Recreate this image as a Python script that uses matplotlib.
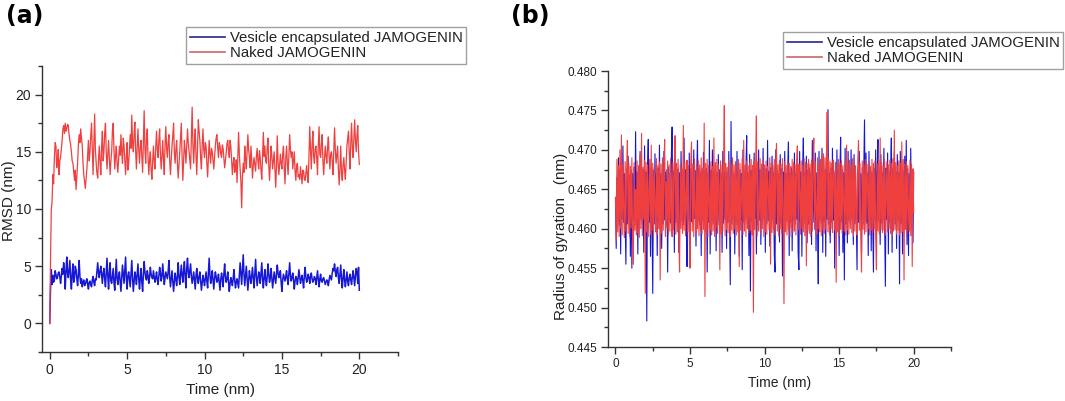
import numpy as np
import matplotlib
matplotlib.use("Agg")
import matplotlib.pyplot as plt
from matplotlib.lines import Line2D
from matplotlib.ticker import MultipleLocator, FormatStrFormatter

plt.rcParams['font.family'] = ['Liberation Sans', 'DejaVu Sans']

# ---------------- data ----------------
labels = ["Vesicle encapsulated JAMOGENIN", "Naked JAMOGENIN"]

rmsd_naked = [
    0.0, 5.5, 10.0, 10.6, 13.0, 12.2, 14.5, 15.8, 15.5, 13.6,
    14.0, 15.2, 13.0, 14.2, 14.5, 15.2, 16.0, 17.0, 17.3, 16.6,
    17.5, 16.8, 17.0, 17.4, 17.3, 16.5, 16.0, 15.6, 15.0, 14.2,
    14.0, 13.2, 12.5, 13.4, 11.7, 12.8, 14.0, 15.6, 16.5, 15.8,
    17.0, 16.2, 15.5, 14.0, 13.0, 12.4, 11.8, 12.6, 13.5, 14.8,
    16.0, 14.2, 15.0, 16.4, 17.5, 15.3, 13.0, 15.6, 18.3, 15.2,
    14.0, 13.1, 12.7, 14.3, 15.5, 14.1, 13.0, 15.4, 16.8, 14.2,
    15.0, 16.6, 17.5, 15.0, 13.5, 14.8, 16.0, 14.4, 13.0, 14.2,
    15.0, 16.8, 17.5, 15.2, 13.5, 14.6, 15.5, 14.0, 13.2, 14.4,
    15.5, 14.7, 16.5, 15.0, 14.0, 16.2, 15.5, 14.3, 13.0, 14.6,
    15.8, 13.4, 14.0, 15.2, 16.5, 15.3, 18.2, 15.8, 15.0, 16.6,
    17.6, 15.1, 13.5, 15.4, 17.0, 15.2, 14.0, 15.4, 16.0, 14.6,
    13.2, 15.8, 18.6, 15.3, 14.0, 16.2, 17.0, 14.5, 13.0, 14.3,
    15.0, 13.4, 12.6, 14.2, 15.5, 14.1, 13.5, 15.4, 16.8, 15.2,
    14.5, 16.0, 17.0, 14.8, 13.5, 14.6, 16.0, 14.3, 13.0, 15.6,
    17.2, 15.3, 14.5, 15.8, 16.5, 14.2, 13.0, 14.4, 15.5, 16.4,
    17.5, 15.0, 14.0, 15.2, 16.0, 14.0, 12.7, 13.8, 15.0, 16.3,
    17.5, 14.6, 12.5, 14.2, 16.0, 15.1, 14.0, 15.6, 17.0, 15.8,
    15.0, 14.1, 13.5, 16.2, 18.9, 15.6, 14.0, 15.8, 17.0, 14.6,
    13.0, 15.4, 17.8, 16.8, 16.0, 14.4, 13.5, 15.6, 17.0, 15.2,
    14.5, 15.8, 15.5, 14.0, 12.8, 14.3, 16.0, 14.8, 14.0, 15.3,
    15.0, 14.2, 13.5, 14.6, 15.5, 16.2, 16.5, 15.4, 14.5, 15.8,
    15.5, 14.8, 14.5, 15.6, 15.3, 14.4, 13.6, 14.2, 15.0, 15.7,
    16.0, 15.1, 14.5, 16.0, 15.5, 14.2, 13.0, 14.0, 14.5, 13.2,
    13.5, 14.3, 12.3, 14.6, 16.7, 14.8, 13.5, 12.4, 10.1, 12.8,
    14.0, 13.2, 15.5, 14.4, 13.5, 15.0, 16.5, 15.2, 14.5, 13.6,
    15.5, 14.2, 12.7, 13.8, 14.5, 13.9, 13.3, 14.6, 15.3, 14.2,
    13.5, 15.1, 14.5, 13.4, 12.6, 14.8, 16.7, 14.6, 15.5, 14.2,
    14.0, 15.4, 16.2, 13.8, 12.5, 14.1, 15.5, 14.6, 13.5, 14.2,
    15.0, 13.4, 11.9, 13.8, 16.4, 14.1, 13.0, 13.8, 14.8, 14.0,
    13.5, 14.8, 15.5, 13.6, 12.2, 14.4, 15.5, 14.0, 13.0, 14.6,
    16.5, 15.2, 14.5, 15.0, 13.5, 14.2, 15.0, 13.3, 12.5, 13.8,
    14.0, 12.8, 13.0, 12.6, 13.7, 13.0, 12.2, 13.4, 13.3, 12.6,
    12.5, 13.2, 13.8, 12.8, 12.3, 14.6, 17.2, 15.1, 13.5, 15.6,
    16.8, 14.6, 14.0, 15.3, 15.5, 14.4, 13.0, 15.6, 17.2, 14.8,
    14.5, 15.7, 16.5, 14.2, 13.0, 14.4, 15.5, 14.6, 14.0, 15.4,
    16.3, 14.6, 13.5, 14.8, 15.0, 14.2, 13.0, 15.0, 17.1, 15.2,
    14.0, 14.8, 15.5, 13.4, 12.1, 13.6, 15.5, 13.2, 12.5, 13.8,
    14.5, 13.4, 12.6, 14.1, 15.5, 16.2, 16.8, 14.9, 13.5, 15.8,
    17.5, 15.4, 14.5, 16.2, 17.8, 16.0, 15.0, 16.4, 17.3, 15.0,
    13.9,
]

rmsd_vesicle = [
    0.0, 3.0, 4.7, 3.4, 4.2, 3.6, 3.8, 4.6, 4.3, 3.9,
    4.0, 4.4, 4.5, 4.1, 3.5, 4.2, 4.8, 4.3, 5.3, 4.5,
    3.0, 4.6, 5.8, 4.4, 4.0, 4.8, 5.5, 3.8, 3.0, 4.4,
    5.2, 3.6, 4.0, 5.0, 4.7, 3.9, 3.3, 4.3, 5.5, 4.1,
    3.5, 3.9, 3.2, 3.6, 3.8, 3.3, 3.4, 3.7, 3.9, 3.4,
    3.0, 3.6, 3.7, 3.4, 3.2, 3.8, 4.1, 3.6, 3.3, 3.9,
    3.8, 4.6, 5.3, 4.4, 4.0, 4.6, 5.0, 4.2, 3.5, 4.4,
    4.8, 3.9, 3.2, 4.5, 5.7, 4.2, 3.0, 4.4, 5.3, 3.7,
    3.5, 4.2, 4.8, 3.6, 2.9, 4.3, 5.6, 3.9, 3.4, 4.1,
    4.5, 3.6, 2.8, 4.0, 5.1, 4.3, 3.5, 4.6, 5.8, 3.9,
    3.0, 4.2, 4.5, 3.8, 3.2, 4.4, 5.5, 4.0, 2.8, 3.7,
    4.5, 4.1, 3.4, 4.3, 5.2, 3.9, 3.0, 4.0, 4.8, 3.6,
    2.8, 4.3, 5.4, 4.5, 4.0, 3.8, 4.6, 4.2, 3.5, 4.0,
    4.9, 4.3, 4.0, 3.9, 4.6, 4.1, 3.6, 4.0, 4.5, 3.8,
    3.4, 4.2, 4.9, 4.4, 3.7, 4.1, 5.2, 4.3, 3.4, 4.0,
    4.5, 4.2, 3.9, 4.5, 5.5, 4.1, 3.2, 3.9, 4.6, 3.7,
    2.8, 3.6, 4.4, 3.9, 3.3, 4.2, 5.3, 4.0, 3.4, 4.3,
    5.1, 4.2, 3.6, 4.6, 5.4, 4.0, 3.1, 4.8, 5.7, 4.5,
    4.0, 4.6, 5.2, 4.1, 3.5, 4.0, 4.5, 3.8, 3.0, 4.2,
    4.8, 3.9, 3.5, 4.1, 4.5, 3.7, 2.9, 3.6, 4.2, 3.8,
    3.3, 3.9, 4.5, 3.7, 3.1, 4.4, 5.7, 4.2, 3.5, 4.0,
    4.6, 3.8, 3.0, 3.9, 4.5, 4.1, 3.6, 3.8, 4.3, 3.6,
    2.9, 3.8, 4.4, 3.9, 3.2, 4.3, 5.2, 4.1, 3.6, 3.9,
    4.5, 3.7, 2.8, 3.5, 4.0, 3.7, 3.3, 3.9, 4.7, 3.8,
    3.1, 3.6, 3.9, 3.5, 3.1, 4.2, 5.3, 4.4, 3.4, 4.8,
    6.0, 4.3, 3.3, 4.2, 5.0, 3.9, 2.9, 3.8, 4.6, 4.0,
    3.5, 4.2, 4.9, 3.9, 3.1, 4.3, 5.6, 4.1, 3.3, 3.9,
    4.5, 4.2, 3.5, 4.4, 5.3, 3.9, 3.1, 4.0, 4.7, 3.8,
    3.3, 4.1, 5.2, 4.3, 3.6, 4.0, 4.8, 3.9, 3.1, 3.8,
    4.5, 4.0, 3.5, 4.3, 5.1, 4.4, 4.0, 4.2, 4.6, 3.6,
    2.8, 3.8, 4.3, 4.0, 3.7, 4.1, 4.6, 3.9, 3.4, 4.4,
    5.3, 4.2, 3.7, 4.0, 4.4, 3.8, 3.0, 3.7, 4.1, 3.9,
    3.4, 4.0, 4.7, 4.1, 3.5, 3.9, 4.2, 3.7, 3.1, 4.2,
    4.9, 4.0, 3.6, 3.9, 4.3, 4.0, 3.5, 4.1, 4.4, 3.9,
    3.6, 3.8, 4.1, 3.9, 3.4, 4.0, 4.6, 3.8, 3.2, 3.9,
    4.3, 3.7, 3.6, 3.9, 4.0, 3.7, 3.4, 3.6, 3.8, 3.7,
    3.3, 3.8, 4.2, 4.0, 3.8, 4.4, 4.8, 4.6, 5.2, 4.5,
    4.1, 4.7, 4.9, 4.0, 3.5, 4.3, 5.1, 3.9, 3.1, 4.0,
    4.7, 3.8, 3.2, 3.9, 4.5, 3.7, 3.3, 4.0, 4.3, 3.8,
    3.4, 4.1, 4.6, 3.9, 3.3, 4.2, 4.8, 4.4, 3.5, 4.9,
    2.9,
]

rg_naked = [
    0.4640, 0.4585, 0.4688, 0.4596, 0.4680, 0.4590, 0.4700, 0.4600, 0.4719, 0.4592,
    0.4682, 0.4625, 0.4589, 0.4685, 0.4597, 0.4676, 0.4712, 0.4594, 0.4683, 0.4590,
    0.4679, 0.4601, 0.4690, 0.4588, 0.4555, 0.4684, 0.4598, 0.4650, 0.4592, 0.4686,
    0.4595, 0.4680, 0.4589, 0.4693, 0.4600, 0.4721, 0.4591, 0.4678, 0.4612, 0.4687,
    0.4518, 0.4684, 0.4596, 0.4681, 0.4590, 0.4640, 0.4688, 0.4593, 0.4706, 0.4598,
    0.4683, 0.4589, 0.4677, 0.4630, 0.4596, 0.4689, 0.4592, 0.4680, 0.4600, 0.4685,
    0.4535, 0.4682, 0.4594, 0.4690, 0.4598, 0.4678, 0.4713, 0.4590, 0.4660, 0.4601,
    0.4686, 0.4592, 0.4681, 0.4597, 0.4689, 0.4615, 0.4590, 0.4684, 0.4599, 0.4679,
    0.4718, 0.4593, 0.4683, 0.4596, 0.4688, 0.4590, 0.4545, 0.4681, 0.4600, 0.4676,
    0.4594, 0.4731, 0.4598, 0.4685, 0.4591, 0.4645, 0.4687, 0.4596, 0.4680, 0.4592,
    0.4550, 0.4684, 0.4710, 0.4597, 0.4682, 0.4590, 0.4688, 0.4620, 0.4595, 0.4679,
    0.4600, 0.4686, 0.4591, 0.4681, 0.4598, 0.4690, 0.4593, 0.4677, 0.4599, 0.4734,
    0.4514, 0.4683, 0.4596, 0.4688, 0.4590, 0.4680, 0.4635, 0.4598, 0.4685, 0.4592,
    0.4679, 0.4597, 0.4715, 0.4590, 0.4684, 0.4601, 0.4688, 0.4594, 0.4681, 0.4655,
    0.4548, 0.4686, 0.4593, 0.4680, 0.4597, 0.4689, 0.4756, 0.4591, 0.4683, 0.4599,
    0.4678, 0.4595, 0.4687, 0.4610, 0.4590, 0.4682, 0.4598, 0.4690, 0.4594, 0.4681,
    0.4600, 0.4685, 0.4592, 0.4679, 0.4596, 0.4688, 0.4552, 0.4683, 0.4598, 0.4640,
    0.4689, 0.4593, 0.4712, 0.4597, 0.4681, 0.4590, 0.4686, 0.4600, 0.4680, 0.4595,
    0.4684, 0.4598, 0.4688, 0.4592, 0.4680, 0.4494, 0.4686, 0.4599, 0.4678, 0.4743,
    0.4591, 0.4685, 0.4597, 0.4625, 0.4689, 0.4594, 0.4682, 0.4600, 0.4687, 0.4590,
    0.4681, 0.4596, 0.4686, 0.4593, 0.4679, 0.4650, 0.4598, 0.4690, 0.4555, 0.4683,
    0.4595, 0.4680, 0.4599, 0.4688, 0.4592, 0.4684, 0.4708, 0.4597, 0.4681, 0.4591,
    0.4687, 0.4600, 0.4682, 0.4594, 0.4689, 0.4630, 0.4505, 0.4685, 0.4596, 0.4680,
    0.4592, 0.4686, 0.4598, 0.4683, 0.4590, 0.4679, 0.4601, 0.4688, 0.4595, 0.4684,
    0.4597, 0.4681, 0.4592, 0.4687, 0.4705, 0.4599, 0.4682, 0.4645, 0.4593, 0.4686,
    0.4600, 0.4680, 0.4596, 0.4689, 0.4591, 0.4684, 0.4553, 0.4683, 0.4598, 0.4688,
    0.4594, 0.4682, 0.4590, 0.4687, 0.4597, 0.4681, 0.4715, 0.4599, 0.4685, 0.4618,
    0.4593, 0.4690, 0.4600, 0.4684, 0.4596, 0.4688, 0.4591, 0.4692, 0.4598, 0.4695,
    0.4594, 0.4690, 0.4599, 0.4686, 0.4748, 0.4596, 0.4689, 0.4592, 0.4685, 0.4600,
    0.4683, 0.4595, 0.4687, 0.4660, 0.4598, 0.4684, 0.4532, 0.4681, 0.4596, 0.4688,
    0.4591, 0.4683, 0.4599, 0.4686, 0.4594, 0.4680, 0.4635, 0.4597, 0.4688, 0.4592,
    0.4706, 0.4598, 0.4683, 0.4593, 0.4687, 0.4600, 0.4681, 0.4595, 0.4689, 0.4591,
    0.4684, 0.4597, 0.4680, 0.4620, 0.4592, 0.4687, 0.4712, 0.4598, 0.4683, 0.4594,
    0.4545, 0.4686, 0.4599, 0.4681, 0.4593, 0.4688, 0.4596, 0.4682, 0.4655, 0.4600,
    0.4685, 0.4592, 0.4679, 0.4598, 0.4688, 0.4594, 0.4683, 0.4600, 0.4686, 0.4591,
    0.4548, 0.4682, 0.4597, 0.4687, 0.4593, 0.4715, 0.4599, 0.4684, 0.4595, 0.4680,
    0.4598, 0.4688, 0.4592, 0.4640, 0.4685, 0.4596, 0.4681, 0.4600, 0.4687, 0.4594,
    0.4683, 0.4591, 0.4689, 0.4597, 0.4725, 0.4599, 0.4684, 0.4593, 0.4680, 0.4598,
    0.4686, 0.4592, 0.4683, 0.4595, 0.4710, 0.4596, 0.4688, 0.4535, 0.4682, 0.4599,
    0.4685, 0.4593, 0.4680, 0.4625, 0.4597, 0.4687, 0.4591, 0.4682, 0.4552, 0.4676,
    0.4620,
]

rg_vesicle = [
    0.4638, 0.4575, 0.4665, 0.4610, 0.4690, 0.4605, 0.4675, 0.4568, 0.4672, 0.4612,
    0.4705, 0.4608, 0.4670, 0.4615, 0.4555, 0.4676, 0.4606, 0.4692, 0.4612, 0.4668,
    0.4565, 0.4674, 0.4550, 0.4670, 0.4610, 0.4678, 0.4605, 0.4723, 0.4614, 0.4672,
    0.4568, 0.4676, 0.4608, 0.4698, 0.4612, 0.4670, 0.4606, 0.4675, 0.4570, 0.4705,
    0.4610, 0.4672, 0.4483, 0.4676, 0.4713, 0.4608, 0.4670, 0.4565, 0.4678, 0.4612,
    0.4518, 0.4674, 0.4606, 0.4695, 0.4610, 0.4671, 0.4566, 0.4677, 0.4608, 0.4706,
    0.4612, 0.4670, 0.4575, 0.4676, 0.4606, 0.4698, 0.4611, 0.4672, 0.4605, 0.4675,
    0.4545, 0.4678, 0.4610, 0.4670, 0.4607, 0.4694, 0.4729, 0.4612, 0.4673, 0.4570,
    0.4702, 0.4608, 0.4674, 0.4613, 0.4676, 0.4570, 0.4671, 0.4606, 0.4698, 0.4610,
    0.4672, 0.4605, 0.4715, 0.4612, 0.4675, 0.4608, 0.4552, 0.4670, 0.4611, 0.4696,
    0.4568, 0.4676, 0.4609, 0.4672, 0.4606, 0.4700, 0.4613, 0.4674, 0.4578, 0.4670,
    0.4712, 0.4610, 0.4677, 0.4605, 0.4671, 0.4566, 0.4675, 0.4611, 0.4697, 0.4607,
    0.4673, 0.4612, 0.4676, 0.4545, 0.4670, 0.4608, 0.4712, 0.4568, 0.4674, 0.4610,
    0.4700, 0.4606, 0.4672, 0.4613, 0.4677, 0.4572, 0.4671, 0.4609, 0.4694, 0.4605,
    0.4675, 0.4611, 0.4670, 0.4570, 0.4698, 0.4607, 0.4673, 0.4612, 0.4676, 0.4575,
    0.4671, 0.4608, 0.4698, 0.4610, 0.4529, 0.4736, 0.4606, 0.4674, 0.4612, 0.4670,
    0.4568, 0.4676, 0.4609, 0.4698, 0.4605, 0.4672, 0.4565, 0.4675, 0.4611, 0.4670,
    0.4548, 0.4700, 0.4608, 0.4673, 0.4612, 0.4677, 0.4718, 0.4606, 0.4671, 0.4566,
    0.4694, 0.4521, 0.4674, 0.4610, 0.4670, 0.4607, 0.4696, 0.4613, 0.4676, 0.4568,
    0.4672, 0.4605, 0.4700, 0.4611, 0.4675, 0.4580, 0.4671, 0.4608, 0.4702, 0.4612,
    0.4670, 0.4570, 0.4676, 0.4606, 0.4712, 0.4610, 0.4673, 0.4578, 0.4677, 0.4608,
    0.4692, 0.4612, 0.4671, 0.4568, 0.4545, 0.4700, 0.4606, 0.4674, 0.4611, 0.4670,
    0.4583, 0.4694, 0.4607, 0.4676, 0.4540, 0.4672, 0.4612, 0.4698, 0.4605, 0.4670,
    0.4610, 0.4675, 0.4710, 0.4566, 0.4671, 0.4608, 0.4677, 0.4572, 0.4673, 0.4611,
    0.4696, 0.4606, 0.4670, 0.4612, 0.4676, 0.4570, 0.4548, 0.4698, 0.4609, 0.4672,
    0.4565, 0.4675, 0.4715, 0.4607, 0.4671, 0.4611, 0.4692, 0.4582, 0.4674, 0.4606,
    0.4677, 0.4612, 0.4670, 0.4580, 0.4712, 0.4608, 0.4673, 0.4610, 0.4696, 0.4572,
    0.4671, 0.4606, 0.4530, 0.4698, 0.4611, 0.4676, 0.4607, 0.4702, 0.4570, 0.4672,
    0.4610, 0.4675, 0.4565, 0.4698, 0.4612, 0.4751, 0.4606, 0.4671, 0.4582, 0.4677,
    0.4608, 0.4702, 0.4611, 0.4673, 0.4550, 0.4670, 0.4607, 0.4700, 0.4612, 0.4676,
    0.4566, 0.4672, 0.4716, 0.4609, 0.4675, 0.4570, 0.4671, 0.4535, 0.4702, 0.4606,
    0.4673, 0.4582, 0.4698, 0.4610, 0.4670, 0.4607, 0.4700, 0.4612, 0.4676, 0.4580,
    0.4694, 0.4606, 0.4671, 0.4611, 0.4548, 0.4675, 0.4608, 0.4698, 0.4612, 0.4670,
    0.4568, 0.4677, 0.4606, 0.4673, 0.4738, 0.4610, 0.4696, 0.4607, 0.4671, 0.4566,
    0.4698, 0.4611, 0.4675, 0.4572, 0.4672, 0.4608, 0.4545, 0.4676, 0.4612, 0.4700,
    0.4606, 0.4670, 0.4713, 0.4610, 0.4674, 0.4580, 0.4694, 0.4607, 0.4671, 0.4611,
    0.4702, 0.4605, 0.4527, 0.4677, 0.4612, 0.4696, 0.4568, 0.4673, 0.4608, 0.4670,
    0.4715, 0.4570, 0.4676, 0.4610, 0.4698, 0.4606, 0.4672, 0.4575, 0.4694, 0.4611,
    0.4671, 0.4530, 0.4698, 0.4607, 0.4675, 0.4568, 0.4673, 0.4612, 0.4692, 0.4606,
    0.4712, 0.4580, 0.4676, 0.4566, 0.4670, 0.4610, 0.4702, 0.4608, 0.4674, 0.4582,
    0.4672,
]

t_start, t_end = 0.0, 20.0

# ---------------- style ----------------
BLUE = '#1717d6'
RED = '#ef3f3f'
BLUE_LEG = '#25258f'
RED_LEG = '#cc6666'
TXT = '#222222'
SPINE = '#333333'

fig = plt.figure(figsize=(10.65, 4.01), dpi=100)

def style_axes(ax, fs):
    for s in ['top', 'right']:
        ax.spines[s].set_visible(False)
    for s in ['left', 'bottom']:
        ax.spines[s].set_color(SPINE)
        ax.spines[s].set_linewidth(1.0)
    ax.tick_params(which='major', direction='out', length=5, width=1,
                   color=SPINE, labelsize=fs, labelcolor=TXT, pad=3)
    ax.tick_params(which='minor', direction='out', length=3, width=1, color=SPINE)
    ax.xaxis.set_major_locator(MultipleLocator(5))
    ax.xaxis.set_minor_locator(MultipleLocator(2.5))

# ---- panel (a) ----
axa = fig.add_axes([42/1065, 1-352/401, 356/1065, 286/401])
ta_n = np.linspace(t_start, t_end, len(rmsd_naked))
ta_v = np.linspace(t_start, t_end, len(rmsd_vesicle))
axa.plot(ta_v, rmsd_vesicle, color=BLUE, lw=1.1)
axa.plot(ta_n, rmsd_naked, color=RED, lw=0.9)
axa.set_xlim(-0.5, 22.5)
axa.set_ylim(-2.5, 22.5)
style_axes(axa, 10)
axa.yaxis.set_major_locator(MultipleLocator(5))
axa.yaxis.set_minor_locator(MultipleLocator(2.5))
axa.set_xlabel('Time (nm)', fontsize=11, color=TXT, labelpad=4)
axa.set_ylabel('RMSD (nm)', fontsize=11, color=TXT)
axa.yaxis.set_label_coords(-0.074, 0.53)

# ---- panel (b) ----
axb = fig.add_axes([608/1065, 1-347/401, 343/1065, 276/401])
tb_n = np.linspace(t_start, t_end, len(rg_naked))
tb_v = np.linspace(t_start, t_end, len(rg_vesicle))
axb.plot(tb_v, rg_vesicle, color=BLUE, lw=0.8)
axb.plot(tb_n, rg_naked, color=RED, lw=0.8)
axb.set_xlim(-0.5, 22.5)
axb.set_ylim(0.445, 0.480)
style_axes(axb, 8.5)
axb.yaxis.set_major_locator(MultipleLocator(0.005))
axb.yaxis.set_minor_locator(MultipleLocator(0.0025))
axb.yaxis.set_major_formatter(FormatStrFormatter('%.3f'))
axb.set_xlabel('Time (nm)', fontsize=10, color=TXT, labelpad=4)
axb.set_ylabel('Radius of gyration   (nm)', fontsize=11, color=TXT)
axb.yaxis.set_label_coords(-0.118, 0.40)

# ---- legends ----
handles = [Line2D([], [], color=BLUE_LEG, lw=1.2), Line2D([], [], color=RED_LEG, lw=1.2)]
leg_kw = dict(loc='upper left', frameon=True, fancybox=False, fontsize=10.7,
              handlelength=2.4, handletextpad=0.3, borderpad=0.25,
              labelspacing=0.12, borderaxespad=0.0)
la = fig.legend(handles, labels, bbox_to_anchor=(186/1065, 1-27/401), **leg_kw)
lb = fig.legend(handles, labels, bbox_to_anchor=(783/1065, 1-32/401), **leg_kw)
for lg in (la, lb):
    fr = lg.get_frame()
    fr.set_edgecolor('#888888')
    fr.set_linewidth(1.0)
    for tx in lg.get_texts():
        tx.set_color(TXT)

# ---- panel letters ----
fig.text(6/1065, 1-16/401, '(a)', fontsize=17, fontweight='bold',
         family='DejaVu Sans', va='center', ha='left')
fig.text(511/1065, 1-16/401, '(b)', fontsize=17, fontweight='bold',
         family='DejaVu Sans', va='center', ha='left')

fig.savefig('out.png', dpi=100)
